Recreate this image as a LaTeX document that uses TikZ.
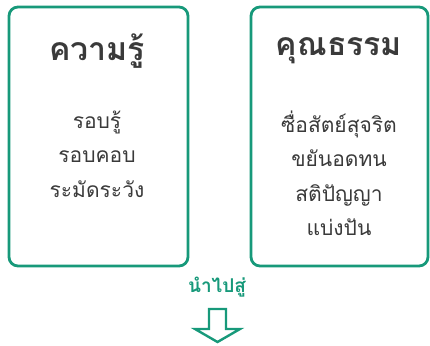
\documentclass[tikz,border=0pt]{standalone}
\usepackage{fontspec}
\newfontfamily\thaifont[Script=Thai]{Loma}
\definecolor{teal}{HTML}{17997A}
\definecolor{txt}{HTML}{3A3A3A}
\tikzset{
  card/.style={draw=teal, line width=2.8pt, rounded corners=9pt},
  title/.style={font=\thaifont\fontsize{32}{32}\selectfont\bfseries, text=txt, anchor=center},
  body/.style={font=\thaifont\fontsize{21}{34.5}\selectfont, text=txt, align=center, anchor=north},
  lead/.style={font=\thaifont\fontsize{19}{19}\selectfont\bfseries, text=teal},
  hollow/.style={draw=teal, line width=2.4pt, line join=miter}
}
\begin{document}
\begin{tikzpicture}[x=1pt,y=-1pt]
\useasboundingbox (0,0) rectangle (430,345);
\draw[card] (9,7) rectangle (188,266);
\draw[card] (251,7) rectangle (428,266);
\node[title] (t1) at (97,51) {ความรู้};
\node[title] (t2) at (339,51) {คุณธรรม};
\node[body] (b1) at (97,107) {รอบรู้\\รอบคอบ\\ระมัดระวัง};
\node[body] (b2) at (339,107) {ซื่อสัตย์สุจริต\\ขยันอดทน\\สติปัญญา\\แบ่งปัน};
\node[lead] (l) at (217,287) {นำไปสู่};
\draw[hollow] (209,309) -- (226,309) -- (226,329) -- (240,329) -- (217.5,342) -- (195,329) -- (209,329) -- cycle;
\end{tikzpicture}
\end{document}
